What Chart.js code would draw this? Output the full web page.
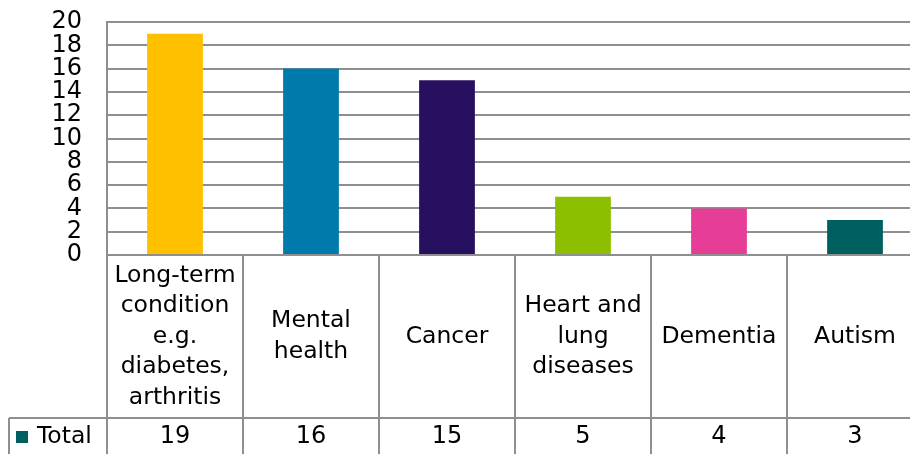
<!DOCTYPE html>
<html>
<head>
<meta charset="utf-8">
<script src="https://cdn.jsdelivr.net/npm/chart.js@4"></script>
<style>
  html, body { margin: 0; padding: 0; background: #fff; overflow: hidden; }
  #wrap { position: absolute; left: 0; top: 0; width: 924px; height: 454px; }
</style>
</head>
<body>
<div id="wrap"><canvas id="chart"></canvas></div>
<script>
const categories = [
  ["Long-term", "condition", "e.g.", "diabetes,", "arthritis"],
  ["Mental", "health"],
  ["Cancer"],
  ["Heart and", "lung", "diseases"],
  ["Dementia"],
  ["Autism"]
];
const totals = [19, 16, 15, 5, 4, 3];
const barColors = ["#FFC000", "#007AAB", "#27105F", "#8CBF00", "#E63E96", "#006060"];
const seriesName = "Total";
const seriesColor = "#006060";
const yTicks = [0, 2, 4, 6, 8, 10, 12, 14, 16, 18, 20];

const GRID = "#8f8f8f";
const FONT = '"DejaVu Sans", sans-serif';

// Excel style data table under the plot
const dataTable = {
  id: "dataTable",
  afterDraw(chart) {
    const { ctx, chartArea: a, scales: { x } } = chart;
    const bottom = chart.height;
    const step = x.getPixelForValue(1) - x.getPixelForValue(0);
    const labelRowBottom = a.bottom + 163;
    const valueMid = labelRowBottom + 19;
    const tableLeft = 9;

    ctx.save();
    ctx.strokeStyle = GRID;
    ctx.lineWidth = 2;
    ctx.beginPath();
    for (let i = 0; i <= categories.length; i++) {
      const px = Math.round(x.getPixelForValue(i) - step / 2);
      ctx.moveTo(px, a.bottom);
      ctx.lineTo(px, bottom);
    }
    ctx.moveTo(tableLeft, labelRowBottom);
    ctx.lineTo(chart.width, labelRowBottom);
    ctx.moveTo(tableLeft, labelRowBottom);
    ctx.lineTo(tableLeft, bottom);
    ctx.stroke();

    ctx.fillStyle = "#000";
    ctx.textAlign = "center";
    ctx.textBaseline = "middle";
    ctx.font = "23.5px " + FONT;
    const lh = 30.5;
    const labelMid = (a.bottom + labelRowBottom) / 2;
    categories.forEach((lines, i) => {
      const cx = x.getPixelForValue(i);
      const y0 = labelMid - (lines.length - 1) * lh / 2;
      lines.forEach((t, j) => ctx.fillText(t, cx, y0 + j * lh));
    });

    ctx.font = "24px " + FONT;
    totals.forEach((v, i) => ctx.fillText(String(v), x.getPixelForValue(i), valueMid));

    ctx.fillStyle = seriesColor;
    ctx.fillRect(16, valueMid - 6, 12, 12);
    ctx.fillStyle = "#000";
    ctx.textAlign = "left";
    ctx.font = "23.5px " + FONT;
    ctx.fillText(seriesName, 37, valueMid);
    ctx.restore();
  }
};

new Chart(document.getElementById("chart"), {
  type: "bar",
  data: {
    labels: categories.map(c => c.join(" ")),
    datasets: [{
      label: seriesName,
      data: totals,
      backgroundColor: barColors,
      borderWidth: 0,
      barPercentage: 0.41,
      categoryPercentage: 1
    }]
  },
  options: {
    responsive: true,
    maintainAspectRatio: false,
    animation: false,
    events: [],
    layout: { padding: { top: 22, right: 1, left: 0, bottom: 0 } },
    plugins: { legend: { display: false }, tooltip: { enabled: false } },
    scales: {
      x: {
        grid: { display: false },
        border: { display: false },
        ticks: { display: false },
        afterFit: s => { s.height = 199; s.paddingLeft = 0; s.paddingRight = 0; }
      },
      y: {
        min: 0,
        max: 20,
        afterBuildTicks: s => { s.ticks = yTicks.map(v => ({ value: v })); },
        afterFit: s => { s.width = 107; s.paddingTop = 0; s.paddingBottom = 0; },
        grid: { color: GRID, lineWidth: 2, drawTicks: false },
        border: { color: GRID, width: 2 },
        ticks: { color: "#000", padding: 25, autoSkip: false, font: { family: FONT, size: 24, lineHeight: 1 } }
      }
    }
  },
  plugins: [dataTable]
});
</script>
</body>
</html>
